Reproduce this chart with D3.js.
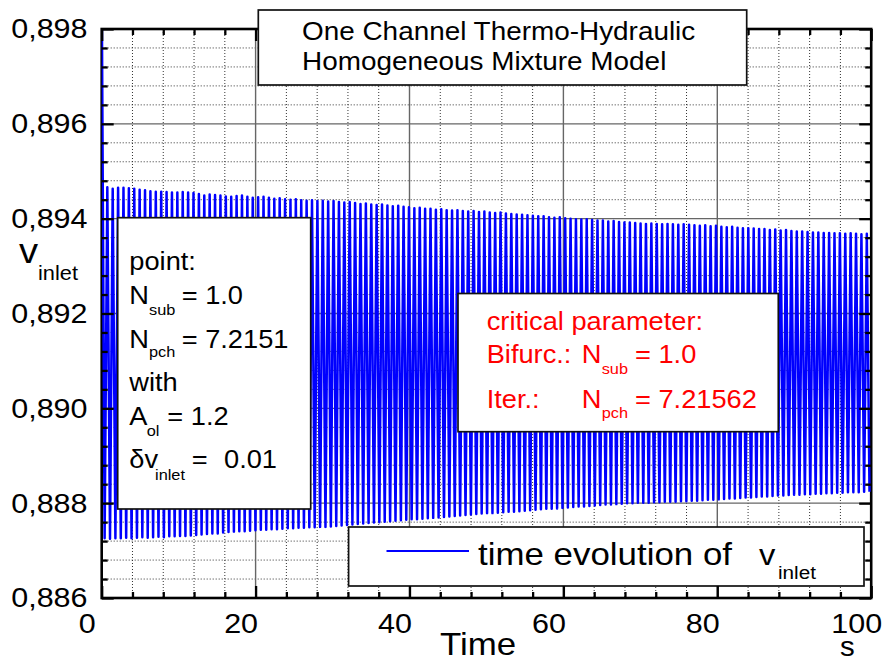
<!DOCTYPE html>
<html>
<head>
<meta charset="utf-8">
<script src="https://cdn.jsdelivr.net/npm/d3@7"></script>
<style>
  body { margin: 0; background: #fff; }
  svg { display: block; }
  text { font-family: "Liberation Sans", Arial, Helvetica, sans-serif; }
</style>
</head>
<body>
<svg id="chart" width="883" height="662"></svg>
<script>
// ---- data -------------------------------------------------------------
const xTicks = [0, 20, 40, 60, 80, 100];
const xTickLabels = ["0", "20", "40", "60", "80", "100"];
const yTicks = [0.886, 0.888, 0.890, 0.892, 0.894, 0.896, 0.898];
const yTickLabels = ["0,886", "0,888", "0,890", "0,892", "0,894", "0,896", "0,898"];

// inlet velocity: initial value, then alternating troughs / peaks of each oscillation cycle
const startTime = 0;
const startValue = 0.8990;
const firstTroughTime = 0.38;
const firstPeakTime = 0.73;
const cyclePeriod = 0.70;

const peakValues = [
  0.89466, 0.89463, 0.89465, 0.89465, 0.89464, 0.89463, 0.89461, 0.89460, 0.89458, 0.89457,
  0.89457, 0.89456, 0.89455, 0.89455, 0.89456, 0.89455, 0.89454, 0.89452, 0.89449, 0.89451,
  0.89450, 0.89449, 0.89447, 0.89446, 0.89448, 0.89449, 0.89446, 0.89444, 0.89445, 0.89446,
  0.89444, 0.89442, 0.89443, 0.89441, 0.89440, 0.89441, 0.89439, 0.89438, 0.89439, 0.89437,
  0.89438, 0.89436, 0.89437, 0.89435, 0.89434, 0.89435, 0.89433, 0.89431, 0.89432, 0.89430,
  0.89429, 0.89430, 0.89428, 0.89426, 0.89427, 0.89425, 0.89424, 0.89422, 0.89423, 0.89421,
  0.89421, 0.89419, 0.89420, 0.89418, 0.89417, 0.89418, 0.89416, 0.89415, 0.89416, 0.89414,
  0.89415, 0.89413, 0.89412, 0.89413, 0.89411, 0.89410, 0.89409, 0.89408, 0.89407, 0.89406,
  0.89405, 0.89405, 0.89403, 0.89402, 0.89403, 0.89401, 0.89400, 0.89399, 0.89398, 0.89399,
  0.89397, 0.89396, 0.89396, 0.89394, 0.89395, 0.89393, 0.89392, 0.89392, 0.89391, 0.89390,
  0.89389, 0.89390, 0.89389, 0.89388, 0.89389, 0.89388, 0.89387, 0.89388, 0.89387, 0.89386,
  0.89385, 0.89386, 0.89384, 0.89385, 0.89383, 0.89382, 0.89383, 0.89381, 0.89380, 0.89380,
  0.89379, 0.89378, 0.89378, 0.89376, 0.89377, 0.89375, 0.89376, 0.89374, 0.89373, 0.89373,
  0.89372, 0.89371, 0.89371, 0.89370, 0.89370, 0.89369, 0.89369, 0.89368, 0.89369, 0.89368,
  0.89367, 0.89368
];

const troughValues = [
  0.88726, 0.88725, 0.88726, 0.88726, 0.88727, 0.88726, 0.88727, 0.88728, 0.88727, 0.88728,
  0.88729, 0.88728, 0.88730, 0.88730, 0.88731, 0.88731, 0.88732, 0.88733, 0.88734, 0.88735,
  0.88736, 0.88736, 0.88738, 0.88739, 0.88740, 0.88741, 0.88741, 0.88742, 0.88743, 0.88744,
  0.88744, 0.88745, 0.88745, 0.88746, 0.88747, 0.88747, 0.88748, 0.88748, 0.88749, 0.88749,
  0.88750, 0.88750, 0.88751, 0.88752, 0.88753, 0.88754, 0.88755, 0.88756, 0.88757, 0.88758,
  0.88759, 0.88760, 0.88761, 0.88762, 0.88763, 0.88764, 0.88765, 0.88766, 0.88766, 0.88767,
  0.88768, 0.88769, 0.88770, 0.88771, 0.88772, 0.88773, 0.88774, 0.88775, 0.88776, 0.88777,
  0.88778, 0.88779, 0.88779, 0.88780, 0.88781, 0.88782, 0.88782, 0.88783, 0.88784, 0.88785,
  0.88786, 0.88787, 0.88788, 0.88788, 0.88789, 0.88790, 0.88791, 0.88792, 0.88793, 0.88793,
  0.88794, 0.88795, 0.88796, 0.88797, 0.88797, 0.88798, 0.88799, 0.88800, 0.88800, 0.88801,
  0.88801, 0.88801, 0.88802, 0.88802, 0.88803, 0.88803, 0.88803, 0.88804, 0.88804, 0.88805,
  0.88805, 0.88806, 0.88807, 0.88807, 0.88808, 0.88809, 0.88810, 0.88810, 0.88811, 0.88812,
  0.88812, 0.88813, 0.88814, 0.88814, 0.88815, 0.88816, 0.88816, 0.88817, 0.88818, 0.88818,
  0.88819, 0.88819, 0.88820, 0.88820, 0.88821, 0.88821, 0.88822, 0.88822, 0.88823, 0.88823,
  0.88823, 0.88824, 0.88824
];

// ---- layout -----------------------------------------------------------
const plot = { left: 101.7, right: 871.2, top: 29, bottom: 598 };
const SX = 1.09;               // horizontal stretch applied to all lettering
const FONT_TICK = 28;

const svg = d3.select("#chart");
const x = d3.scaleLinear().domain([0, 100]).range([plot.left, plot.right]);
const y = d3.scaleLinear().domain([0.886, 0.898]).range([plot.bottom, plot.top]);

function label(parent, px, py, str, size, fill) {
  return parent.append("text")
    .attr("transform", `translate(${px},${py}) scale(${SX},1)`)
    .attr("font-size", size)
    .attr("fill", fill || "#000")
    .text(str);
}

// ---- grid ---------------------------------------------------------------
const minorX = d3.range(0, 101, 4).filter(v => v % 20 !== 0);
const majorX = [20, 40, 60, 80];
const yStep = 0.0004;
const minorY = d3.range(0, 31).filter(i => i % 5 !== 0).map(i => 0.886 + i * yStep);
const majorY = [0.888, 0.890, 0.892, 0.894, 0.896];

const grid = svg.append("g");
grid.selectAll("line.mx").data(minorX).join("line")
  .attr("x1", d => x(d)).attr("x2", d => x(d))
  .attr("y1", plot.top).attr("y2", plot.bottom)
  .attr("stroke", "#333").attr("stroke-width", 1).attr("stroke-dasharray", "1,2");
grid.selectAll("line.my").data(minorY).join("line")
  .attr("y1", d => y(d)).attr("y2", d => y(d))
  .attr("x1", plot.left).attr("x2", plot.right)
  .attr("stroke", "#333").attr("stroke-width", 1).attr("stroke-dasharray", "1,2");
grid.selectAll("line.Mx").data(majorX).join("line")
  .attr("x1", d => x(d)).attr("x2", d => x(d))
  .attr("y1", plot.top).attr("y2", plot.bottom)
  .attr("stroke", "#666").attr("stroke-width", 1.4);
grid.selectAll("line.My").data(majorY).join("line")
  .attr("y1", d => y(d)).attr("y2", d => y(d))
  .attr("x1", plot.left).attr("x2", plot.right)
  .attr("stroke", "#666").attr("stroke-width", 1.4);

// ---- frame ------------------------------------------------------------
svg.append("rect")
  .attr("x", plot.left).attr("y", plot.top)
  .attr("width", plot.right - plot.left).attr("height", plot.bottom - plot.top)
  .attr("fill", "none").attr("stroke", "#000").attr("stroke-width", 2.6);

// ---- series ---------------------------------------------------------------
const series = [{ t: startTime, v: startValue }];
troughValues.forEach((tv, k) => {
  series.push({ t: firstTroughTime + k * cyclePeriod, v: tv });
  if (k < peakValues.length) series.push({ t: firstPeakTime + k * cyclePeriod, v: peakValues[k] });
});

svg.append("clipPath").attr("id", "plotClip").append("rect")
  .attr("x", plot.left).attr("y", plot.top)
  .attr("width", plot.right - plot.left).attr("height", plot.bottom - plot.top);

const line = d3.line().x(d => x(d.t)).y(d => y(d.v));
svg.append("path")
  .datum(series)
  .attr("clip-path", "url(#plotClip)")
  .attr("d", line)
  .attr("fill", "none")
  .attr("stroke", "#0000ff")
  .attr("stroke-width", 2.5)
  .attr("stroke-linejoin", "round");

// ---- annotation boxes ---------------------------------------------------
function box(x0, y0, x1, y1) {
  svg.append("rect").attr("x", x0).attr("y", y0)
    .attr("width", x1 - x0).attr("height", y1 - y0)
    .attr("fill", "#fff").attr("stroke", "#111").attr("stroke-width", 1.7);
}

// operating point
box(117.7, 217.7, 310.7, 509);
const pt = svg.append("g");
const F = 25, FS = 15;
label(pt, 129.3, 270, "point:", F);
label(pt, 129.3, 304, "N", F);   label(pt, 149, 315, "sub", FS);  label(pt, 181.7, 304, "= 1.0", F);
label(pt, 129.3, 348, "N", F);   label(pt, 149, 357, "pch", FS);  label(pt, 181.7, 348, "= 7.2151", F);
label(pt, 129.3, 390.7, "with", F);
label(pt, 129.3, 425, "A", F);   label(pt, 146.7, 436, "ol", FS); label(pt, 167.3, 425, "= 1.2", F);
label(pt, 129.3, 468.3, "δv", F); label(pt, 155, 480, "inlet", FS);
label(pt, 191.7, 468.3, "=", F); label(pt, 224, 468.3, "0.01", F);

// critical parameter
box(458, 293.5, 778.3, 431.7);
const cp = svg.append("g");
const RED = "#ff0000";
label(cp, 486.7, 330, "critical parameter:", F, RED);
label(cp, 486.7, 363.3, "Bifurc.:", F, RED);
label(cp, 581.7, 363.3, "N", F, RED);
label(cp, 601.7, 374, "sub", FS, RED);
label(cp, 635, 363.3, "= 1.0", F, RED);
label(cp, 486.7, 408.3, "Iter.:", F, RED);
label(cp, 581.7, 408.3, "N", F, RED);
label(cp, 601.7, 417.5, "pch", FS, RED);
label(cp, 635, 408.3, "= 7.21562", F, RED);

// legend
box(348.6, 527, 864, 586);
svg.append("line").attr("x1", 386.5).attr("x2", 469).attr("y1", 551).attr("y2", 551)
  .attr("stroke", "#0000ff").attr("stroke-width", 2.2);
const lg = svg.append("g");
label(lg, 478, 565, "time evolution of", 32);
label(lg, 759, 565, "v", 30);
label(lg, 778, 579, "inlet", 19);

// ---- axes -------------------------------------------------------------
function styleAxis(g) {
  g.select(".domain").remove();
  g.selectAll(".tick line").attr("stroke", "#000").attr("stroke-width", 2.3);
}

const axL = svg.append("g").attr("transform", `translate(${plot.left},0)`)
  .call(d3.axisLeft(y).tickValues(yTicks).tickSize(-12).tickPadding(13)
    .tickFormat((d, i) => yTickLabels[i]));
styleAxis(axL);
axL.selectAll("text").attr("font-size", FONT_TICK).attr("fill", "#000")
  .attr("font-family", '"Liberation Sans", Arial, sans-serif')
  .attr("transform", `scale(${SX},1)`);

const axLm = svg.append("g").attr("transform", `translate(${plot.left},0)`)
  .call(d3.axisLeft(y).tickValues(minorY).tickSize(-6).tickFormat(""));
styleAxis(axLm);

const axR = svg.append("g").attr("transform", `translate(${plot.right},0)`)
  .call(d3.axisRight(y).tickValues(yTicks).tickSize(-12).tickFormat(""));
styleAxis(axR);
const axRm = svg.append("g").attr("transform", `translate(${plot.right},0)`)
  .call(d3.axisRight(y).tickValues(minorY).tickSize(-6).tickFormat(""));
styleAxis(axRm);

const axB = svg.append("g").attr("transform", `translate(0,${plot.bottom})`)
  .call(d3.axisBottom(x).tickValues(xTicks).tickSize(-12).tickPadding(15)
    .tickFormat((d, i) => xTickLabels[i]));
styleAxis(axB);
axB.selectAll("text").attr("font-size", FONT_TICK).attr("fill", "#000")
  .attr("font-family", '"Liberation Sans", Arial, sans-serif')
  .attr("x", -15 / SX)
  .attr("transform", `scale(${SX},1)`);

const axBm = svg.append("g").attr("transform", `translate(0,${plot.bottom})`)
  .call(d3.axisBottom(x).tickValues(minorX).tickSize(-6).tickFormat(""));
styleAxis(axBm);

const axT = svg.append("g").attr("transform", `translate(0,${plot.top})`)
  .call(d3.axisTop(x).tickValues(xTicks).tickSize(-12).tickFormat(""));
styleAxis(axT);
const axTm = svg.append("g").attr("transform", `translate(0,${plot.top})`)
  .call(d3.axisTop(x).tickValues(minorX).tickSize(-6).tickFormat(""));
styleAxis(axTm);

// axis titles
const at = svg.append("g");
label(at, 19, 263, "v", 35);
label(at, 38, 280, "inlet", 20);
label(at, 440, 655, "Time", 32);
label(at, 840, 656, "s", 27);

// ---- title box --------------------------------------------------------
box(258.3, 10, 746.7, 85);
const tt = svg.append("g");
label(tt, 302, 40.3, "One Channel Thermo-Hydraulic", 25.6);
label(tt, 302, 70.3, "Homogeneous Mixture Model", 25.6);
</script>
</body>
</html>
